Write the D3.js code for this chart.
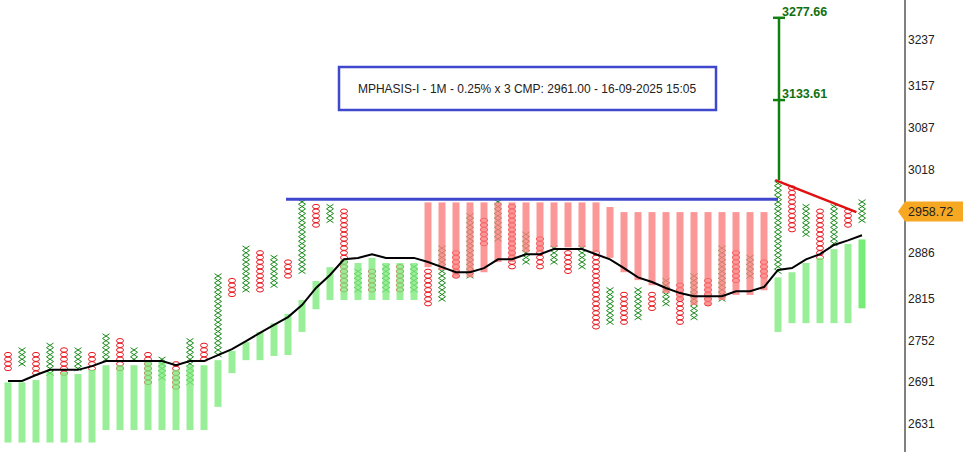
<!DOCTYPE html>
<html>
<head>
<meta charset="utf-8">
<script src="https://cdn.jsdelivr.net/npm/d3@7"></script>
<style>
body { margin: 0; background: #fff; }
text { font-family: "Liberation Sans", Arial, sans-serif; }
</style>
</head>
<body>
<script>
let w = 963;
let h = 452;
// box numbers above base price 2631, box size 0.25%
let basePrice = 2631;
let boxPct = 0.0025;
let colType = ["O","X","O","X","O","X","O","X","O","X","O","X","O","X","O","X","O","X","O","X",
               "O","X","O","X","O","X","O","X","O","X","O","X","O","X","O","X","O","X","O","X",
               "O","X","O","X","O","X","O","X","O","X","O","X","O","X","O","X","O","X","O","X",
               "O","X"];
let colTop = [15,16,15,17,16,16,15,19,18,16,15,14,13,18,17,32,31,38,37,36,35,48,47,47,46,33,33,34,34,34,
              33,38,37,45,44,48,47,41,40,38,37,38,37,29,28,29,28,31,30,32,31,38,37,36,35,52,51,47,46,47,46,48];
let colBot = [12,13,11,11,11,12,12,14,12,14,9,10,8,9,14,15,28,29,29,30,32,33,43,44,29,29,29,29,29,29,
              26,27,32,32,39,40,34,35,34,35,33,34,21,22,22,23,25,26,22,23,26,27,31,32,32,33,42,41,36,39,43,44];
let barTop = [9,9,9.5,11.2,11.2,10.8,11.7,12.7,12.7,12.7,13.6,13.4,11.7,12.7,12.7,13.8,15.8,17.7,19.9,21.8,23.8,26.8,30.9,33.9,35.6,34.8,35.9,34.8,34.8,34.8,
              47.9,47.9,47.9,47.9,47.9,47.9,47.9,47.9,47.9,47.9,47.9,47.9,47.9,46.9,45.8,45.8,45.8,45.8,45.8,45.8,45.8,45.8,45.8,45.8,45.8,
              31.7,32.8,34.8,35.9,37.8,38.9,39.9];
let barBot = [-4,-4,-4,-4,-4,-4,-4,-1.3,-1.3,-1.3,-1.3,-1.3,-1.3,-1.3,-1.3,3.7,11,13.8,13.8,14.7,14.9,19.9,24.8,26.8,26.8,26.8,26.8,26.8,26.8,26.8,
              33.9,33.3,31.7,31.7,32.8,35,35,37.1,37.1,38.2,38.2,38.2,37.1,35.9,32.8,31.1,30,28.3,26.8,25.7,25.7,26.8,27.9,27.9,28.9,
              19.9,21.8,21.8,21.8,21.8,21.8,25];
let barKind = "GGGGGGGGGGGGGGGGGGGGGGGGGGGGGGRRRRRRRRRRRRRRRRRRRRRRRRRGGGGGGL".split("");
let maLine = [9.3,9.3,10.6,11.7,11.7,11.7,12.5,13.6,13.6,13.6,13.6,13.6,12.7,13.6,13.6,14.9,16.2,17.9,19.7,21.4,23.1,25.7,29.4,32.2,35.6,35.9,36.7,35.9,35.9,35.9,
              35,33.9,32.8,32.8,33.7,35.6,35.6,36.7,36.7,37.8,37.8,37.8,36.7,35.6,33.7,31.7,30.7,29.4,28.3,27.6,27.6,27.6,28.7,28.7,29.6,
              33.3,33.7,35.6,36.7,38.7,39.7,40.8];
let tickPrices = [3237,3157,3087,3018,2886,2815,2752,2691,2631];
let resistanceBox = 48.6;
let trendStart = [54.8, 52.7];
let trendEnd = [60.6, 45.8];
let targets = [3277.66, 3133.61];
let targetCol = 55;
let cmp = 2958.72;
let title = "MPHASIS-I - 1M - 0.25% x 3 CMP: 2961.00 - 16-09-2025 15:05";

let toBox = p => Math.log(p / basePrice) / Math.log(1 + boxPct);

let svg = d3.select("body").append("svg").attr("width", w).attr("height", h);
let x = d3.scaleLinear().domain([0, 61]).range([8, 862]);
let y = d3.scaleLinear().domain([0, 83]).range([424, 40]);

// markers
let cols = colType.map((t, i) => ({t, i, top: colTop[i], bot: colBot[i]}));
cols.forEach(c => {
  let boxes = d3.range(c.bot, c.top + 1);
  let g = svg.append("g");
  if (c.t === "X") {
    boxes.forEach(b => {
      let cx = x(c.i), cy = y(b);
      g.append("path")
       .attr("d", `M${cx-3.5},${cy-2.3}L${cx+3.5},${cy+2.3}M${cx+3.5},${cy-2.3}L${cx-3.5},${cy+2.3}`)
       .attr("stroke", "#1a8a1a").attr("stroke-width", 1);
    });
  } else {
    g.selectAll("ellipse").data(boxes).enter().append("ellipse")
     .attr("cx", x(c.i)).attr("cy", b => y(b))
     .attr("rx", 3.5).attr("ry", 2.2)
     .attr("fill", "none").attr("stroke", "#e8141c").attr("stroke-width", 1);
  }
});

// bars
let barColor = {G: "#7eeb7e", R: "#fb7d7d", L: "#55e855"};
svg.selectAll("rect.bar")
   .data(barKind)
   .enter()
   .append("rect")
   .attr("class", "bar")
   .attr("x", (d, i) => x(i) - 3.5)
   .attr("width", 7)
   .attr("y", (d, i) => y(barTop[i]))
   .attr("height", (d, i) => y(barBot[i]) - y(barTop[i]))
   .attr("fill", d => barColor[d])
   .attr("opacity", 0.8);

// moving average
svg.append("path")
   .datum(maLine)
   .attr("d", d3.line().x((d, i) => x(i)).y(d => y(d)))
   .attr("fill", "none").attr("stroke", "#000").attr("stroke-width", 2);

// resistance line
svg.append("line")
   .attr("x1", x(20) - 2).attr("x2", x(targetCol))
   .attr("y1", y(resistanceBox)).attr("y2", y(resistanceBox))
   .attr("stroke", "#3f48cc").attr("stroke-width", 3);

// trend line
svg.append("line")
   .attr("x1", x(trendStart[0])).attr("y1", y(trendStart[1]))
   .attr("x2", x(trendEnd[0])).attr("y2", y(trendEnd[1]))
   .attr("stroke", "#e01010").attr("stroke-width", 2.5);

// target line
let tx = x(targetCol) + 1;
svg.append("line")
   .attr("x1", tx).attr("x2", tx)
   .attr("y1", y(toBox(targets[0])) + 1).attr("y2", y(trendStart[1]))
   .attr("stroke", "#108010").attr("stroke-width", 2.5);
targets.forEach((t, k) => {
  let ty = y(toBox(t)) + (k === 0 ? 1 : 0);
  svg.append("line").attr("x1", tx - 6).attr("x2", tx + 6).attr("y1", ty).attr("y2", ty)
     .attr("stroke", "#108010").attr("stroke-width", 2.5);
  svg.append("text").attr("x", tx + 3).attr("y", ty - 2 + (k === 0 ? 0 : 0))
     .attr("font-size", 12.5).attr("font-weight", "bold").attr("fill", "#107010")
     .text(t.toFixed(2));
});

// axis
let axisX = 905;
svg.append("line").attr("x1", axisX).attr("x2", axisX).attr("y1", 0).attr("y2", h)
   .attr("stroke", "#000").attr("stroke-width", 1);
svg.selectAll("text.tick")
   .data(tickPrices)
   .enter()
   .append("text")
   .attr("class", "tick")
   .attr("x", axisX + 3)
   .attr("y", d => y(toBox(d)) + 4)
   .attr("font-size", 12)
   .attr("fill", "#222")
   .text(d => d);

// price tag
let cy = y(toBox(cmp)) + 5;
svg.append("path")
   .attr("d", `M${axisX - 7},${cy} L${axisX},${cy - 10} L${w},${cy - 10} L${w},${cy + 10} L${axisX},${cy + 10} Z`)
   .attr("fill", "#f7a823");
svg.append("text").attr("x", axisX + 3).attr("y", cy + 4.5)
   .attr("font-size", 12.5).attr("fill", "#222").text(cmp.toFixed(2));

// title box
svg.append("rect").attr("x", 339).attr("y", 67).attr("width", 377).attr("height", 43)
   .attr("fill", "#fff").attr("stroke", "#3f48cc").attr("stroke-width", 2.5);
svg.append("text").attr("x", 527).attr("y", 93).attr("text-anchor", "middle")
   .attr("font-size", 12).attr("fill", "#222").text(title);
</script>
</body>
</html>
